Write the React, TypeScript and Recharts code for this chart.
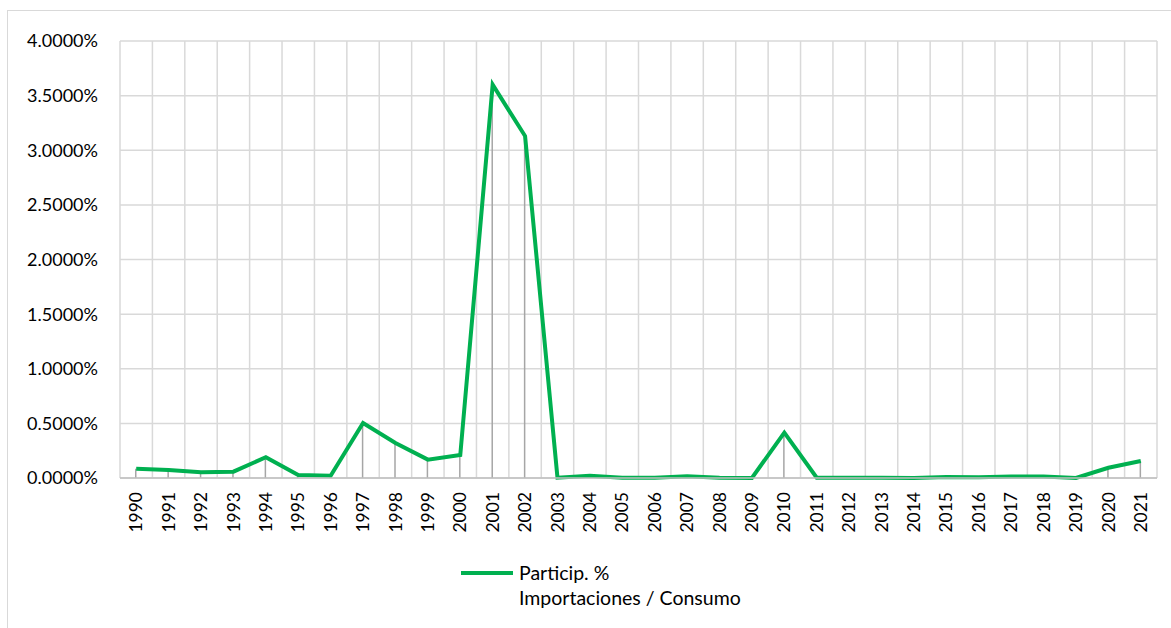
import { ComposedChart, Line, Bar, XAxis, YAxis, CartesianGrid } from 'recharts'

const years = [
  '1990', '1991', '1992', '1993', '1994', '1995', '1996', '1997', '1998', '1999',
  '2000', '2001', '2002', '2003', '2004', '2005', '2006', '2007', '2008', '2009',
  '2010', '2011', '2012', '2013', '2014', '2015', '2016', '2017', '2018', '2019',
  '2020', '2021',
]

// participación importaciones / consumo, en %
const particip = [
  0.085, 0.073, 0.052, 0.058, 0.19, 0.027, 0.021, 0.503, 0.32, 0.168,
  0.21, 3.6, 3.13, 0.003, 0.021, 0.002, 0.002, 0.015, 0.003, 0.001,
  0.415, 0.002, 0.002, 0.002, 0.001, 0.01, 0.006, 0.014, 0.014, 0.001,
  0.094, 0.155,
]

const yTicks = [0, 0.5, 1, 1.5, 2, 2.5, 3, 3.5, 4]

const FONT = 'Lato, "Open Sans", sans-serif'
const GREEN = '#00b050'

const data = years.map((y, i) => ({ year: y, value: particip[i] }))

function YearTick({ x, y, payload }: any) {
  return (
    <text
      transform={`translate(${x},${y + 6}) rotate(-90)`}
      textAnchor="end"
      dy="0.35em"
      fill="#000"
      fontSize={17.5}
      fontFamily={FONT}
    >
      {payload.value}
    </text>
  )
}

export default function App() {
  return (
    <div
      style={{
        position: 'absolute',
        left: 7,
        top: 10,
        width: 1166,
        height: 620,
        border: '1.5px solid #d9d9d9',
        background: '#fff',
        boxSizing: 'border-box',
      }}
    >
      <ComposedChart
        width={1164}
        height={530}
        data={data}
        margin={{ top: 30, right: 15, bottom: 3, left: 32 }}
        barCategoryGap={0}
      >
        <CartesianGrid
          stroke="#d9d9d9"
          strokeWidth={1.5}
          verticalCoordinatesGenerator={({ offset }: any) =>
            Array.from(
              { length: years.length + 1 },
              (_, i) => offset.left + (i * offset.width) / years.length
            )
          }
        />
        <XAxis
          dataKey="year"
          interval={0}
          height={60}
          tickLine={false}
          axisLine={{ stroke: '#bfbfbf', strokeWidth: 1.5 }}
          tick={<YearTick />}
        />
        <YAxis
          domain={[0, 4]}
          ticks={yTicks}
          width={80}
          axisLine={false}
          tickLine={false}
          tickSize={0}
          tickMargin={22}
          tickFormatter={(v: number) => v.toFixed(4) + '%'}
          tick={{ fill: '#000', fontSize: 18, fontFamily: FONT }}
        />
        <Bar dataKey="value" barSize={1.5} fill="#a6a6a6" isAnimationActive={false} />
        <Line
          dataKey="value"
          type="linear"
          stroke={GREEN}
          strokeWidth={4}
          dot={false}
          isAnimationActive={false}
        />
      </ComposedChart>
      <div
        style={{
          position: 'absolute',
          left: 453,
          top: 549,
          display: 'flex',
          alignItems: 'flex-start',
          fontFamily: FONT,
          fontSize: 19.5,
          lineHeight: '25px',
          color: '#000',
        }}
      >
        <svg width={54} height={25}>
          <line x1={0} y1={13} x2={52} y2={13} stroke={GREEN} strokeWidth={4} />
        </svg>
        <div style={{ marginLeft: 4 }}>
          Particip. %
          <br />
          Importaciones / Consumo
        </div>
      </div>
    </div>
  )
}
